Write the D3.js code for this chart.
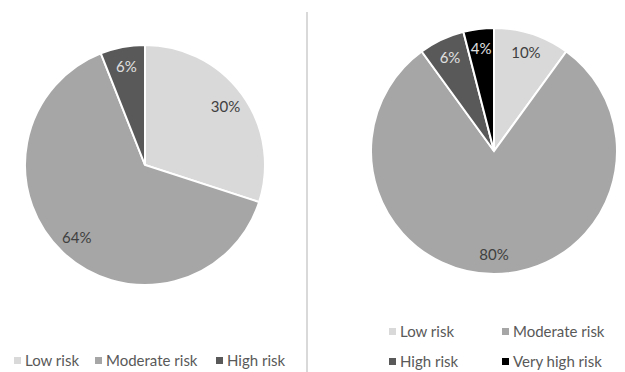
<!DOCTYPE html>
<html>
<head>
<meta charset="utf-8">
<script src="https://cdn.jsdelivr.net/npm/d3@7"></script>
<style>
  body { margin: 0; background: #fff; }
  svg { display: block; font-family: Lato, "Open Sans", sans-serif; }
</style>
</head>
<body>
<svg id="chart" width="625" height="372"></svg>
<script>
// Data
const leftCategories = ["Low risk", "Moderate risk", "High risk"];
const leftValues = [30, 64, 6];
const rightCategories = ["Low risk", "Moderate risk", "High risk", "Very high risk"];
const rightValues = [10, 80, 6, 4];
const riskColors = ["#d9d9d9", "#a6a6a6", "#595959", "#000000"];

const svg = d3.select("#chart");

const color = d3.scaleOrdinal()
  .domain(rightCategories)
  .range(riskColors);

// dark slices get light labels
const darkSlices = ["High risk", "Very high risk"];

// Utility function to draw one pie
function drawPie(cx, cy, radius, categories, values, labelFactor) {
  const data = categories.map((c, i) => ({ name: c, value: values[i] }));
  const pie = d3.pie().sort(null).value(d => d.value);
  const arc = d3.arc().innerRadius(0).outerRadius(radius);
  const labelArc = d3.arc().innerRadius(radius * labelFactor).outerRadius(radius * labelFactor);

  const g = svg.append("g").attr("transform", `translate(${cx},${cy})`);

  g.selectAll("path")
    .data(pie(data))
    .join("path")
    .attr("d", arc)
    .attr("fill", d => color(d.data.name))
    .attr("stroke", "#fff")
    .attr("stroke-width", 2);

  g.selectAll("text")
    .data(pie(data))
    .join("text")
    .attr("transform", d => `translate(${labelArc.centroid(d)})`)
    .attr("text-anchor", "middle")
    .attr("dy", "0.35em")
    .style("font-size", "15px")
    .style("fill", d => darkSlices.includes(d.data.name) ? "#e0e0e0" : "#404040")
    .text(d => d.data.value + "%");
}

drawPie(145, 165, 120, leftCategories, leftValues, 0.83);
drawPie(494, 151, 123, rightCategories, rightValues, 0.84);

// Divider
svg.append("line")
  .attr("x1", 307).attr("x2", 307)
  .attr("y1", 12).attr("y2", 372)
  .attr("stroke", "#d9d9d9")
  .attr("stroke-width", 2);

// Legends
function legendItem(x, y, name) {
  svg.append("rect")
    .attr("x", x).attr("y", y - 4)
    .attr("width", 7).attr("height", 7)
    .attr("fill", color(name));
  svg.append("text")
    .attr("x", x + 11).attr("y", y)
    .attr("dy", "0.35em")
    .style("font-size", "15px")
    .style("fill", "#595959")
    .text(name);
}

legendItem(14, 361, "Low risk");
legendItem(95, 361, "Moderate risk");
legendItem(216, 361, "High risk");

legendItem(389, 332, "Low risk");
legendItem(502, 332, "Moderate risk");
legendItem(389, 362, "High risk");
legendItem(502, 362, "Very high risk");
</script>
</body>
</html>
